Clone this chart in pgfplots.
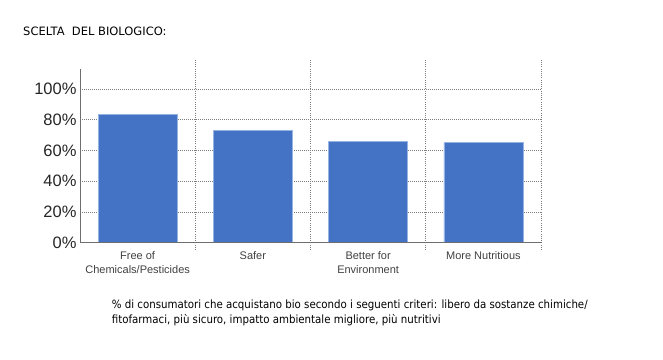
\documentclass[border=0pt]{standalone}
\usepackage{pgfplots}
\pgfplotsset{compat=1.18}
\usepackage{fontspec}
\setmainfont{Liberation Sans}
\newfontfamily\tahoma{DejaVu Sans Condensed}
\newfontfamily\verdana{DejaVu Sans}
\definecolor{barblue}{RGB}{68,114,196}
\definecolor{baredge}{RGB}{150,180,225}
\definecolor{gridgray}{RGB}{125,125,125}
\definecolor{axgray}{RGB}{110,110,110}
\begin{document}
\begin{tikzpicture}
\useasboundingbox (0,0) rectangle (663pt,359pt);
\node[anchor=west,inner sep=0pt,font=\verdana\fontsize{11.5}{13}\selectfont] at (23pt,328pt) {SCELTA\ \ DEL BIOLOGICO:};
\node[anchor=north west,inner sep=0pt,align=left,font=\tahoma\fontsize{11.37}{14.5}\selectfont] at (111.7pt,359pt-300pt) {\% di consumatori che acquistano bio secondo i seguenti criteri: libero da sostanze chimiche/\\fitofarmaci, più sicuro, impatto ambientale migliore, più nutritivi};
\begin{axis}[
  at={(80pt,109pt)}, anchor=south west,
  scale only axis, width=461pt, height=191pt,
  xmin=-0.5, xmax=3.5, ymin=-4.76, ymax=119.7,
  axis line style={draw=none},
  ytick={0,20,40,60,80,100},
  yticklabel={\pgfmathprintnumber{\tick}\%},
  yticklabel style={font=\fontsize{16.5}{18}\selectfont, text=black!85},
  /pgf/number format/assume math mode=true,
  xtick={0,1,2,3},
  xticklabels={Free of\\Chemicals/Pesticides, Safer, Better for\\Environment, More Nutritious},
  xticklabel style={align=center, font=\fontsize{11}{14}\selectfont, text=black!75, yshift=2pt},
  minor xtick={0.5,1.5,2.5,3.5},
  major tick length=0pt, minor tick length=0pt,
  ymajorgrids, xminorgrids,
  grid style={gridgray, line width=0.9pt, dash pattern=on 1pt off 1pt},
  minor grid style={gridgray, line width=0.9pt, dash pattern=on 1pt off 1.2pt},
  clip=false,
]
\addplot[ybar, bar width=79pt, fill=barblue, draw=baredge, line width=0.6pt] coordinates {(0,83.8) (1,73.4) (2,65.8) (3,65.1)};
\draw[axgray, line width=1pt] (axis cs:-0.5,0) -- (axis cs:3.5,0);
\draw[axgray, line width=1pt] (axis cs:-0.5,0) -- (axis cs:-0.5,113);
\end{axis}
\end{tikzpicture}
\end{document}
